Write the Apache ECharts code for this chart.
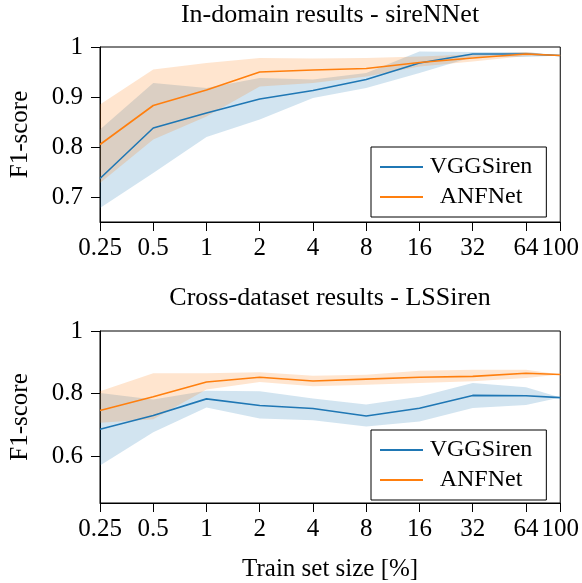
<!DOCTYPE html>
<html>
<head>
<meta charset="utf-8">
<script src="https://cdn.jsdelivr.net/npm/echarts@6/dist/echarts.min.js"></script>
<style>html,body{margin:0;padding:0;background:#fff;}#c{width:582px;height:583px;}</style>
</head>
<body>
<div id="c"></div>
<script>
const trainSizes = [0.25, 0.5, 1, 2, 4, 8, 16, 32, 64, 100];
const xTickValues = [0.25, 0.5, 1, 2, 4, 8, 16, 32, 64, 100];
const yTicksTop = [0.7, 0.8, 0.9, 1];
const yTicksBottom = [0.6, 0.8, 1];

// In-domain results - sireNNet
const vggInMean = [0.737, 0.838, 0.868, 0.896, 0.913, 0.935, 0.968, 0.986, 0.986, 0.983];
const vggInLow  = [0.678, 0.748, 0.820, 0.855, 0.898, 0.918, 0.948, 0.980, 0.980, 0.983];
const vggInHigh = [0.835, 0.928, 0.918, 0.938, 0.935, 0.948, 0.991, 0.990, 0.990, 0.983];
const anfInMean = [0.805, 0.883, 0.914, 0.950, 0.954, 0.957, 0.969, 0.978, 0.986, 0.983];
const anfInLow  = [0.728, 0.815, 0.861, 0.921, 0.928, 0.941, 0.961, 0.971, 0.982, 0.983];
const anfInHigh = [0.885, 0.955, 0.968, 0.978, 0.977, 0.978, 0.981, 0.985, 0.990, 0.983];

// Cross-dataset results - LSSiren
const vggCrossMean = [0.686, 0.730, 0.783, 0.762, 0.752, 0.728, 0.753, 0.794, 0.793, 0.787];
const vggCrossLow  = [0.570, 0.676, 0.755, 0.720, 0.715, 0.695, 0.711, 0.754, 0.763, 0.787];
const vggCrossHigh = [0.802, 0.781, 0.809, 0.807, 0.784, 0.765, 0.790, 0.834, 0.820, 0.787];
const anfCrossMean = [0.746, 0.790, 0.837, 0.852, 0.840, 0.846, 0.852, 0.855, 0.865, 0.861];
const anfCrossLow  = [0.707, 0.718, 0.813, 0.837, 0.823, 0.828, 0.834, 0.839, 0.850, 0.861];
const anfCrossHigh = [0.807, 0.865, 0.865, 0.868, 0.857, 0.860, 0.873, 0.876, 0.876, 0.861];

const titles = ['In-domain results - sireNNet', 'Cross-dataset results - LSSiren'];
const seriesNames = ['VGGSiren', 'ANFNet'];

const BLUE = '#1f77b4', ORANGE = '#ff7f0e';
const FONT = 'Liberation Serif';
const FS = 24;
const FS_TICK = 25;
const FS_TITLE = 26;

function pairs(vals) { return trainSizes.map((x, i) => [x, vals[i]]); }

function band(idx, low, high, color) {
  return {
    type: 'custom', xAxisIndex: idx, yAxisIndex: idx, silent: true, z: 1,
    data: trainSizes.map((x, i) => [x, low[i], high[i]]),
    encode: { x: 0, y: [1, 2] },
    renderItem: function (params, api) {
      if (params.dataIndexInside !== 0) return null;
      const upper = trainSizes.map((x, i) => api.coord([x, high[i]]));
      const lower = trainSizes.map((x, i) => api.coord([x, low[i]])).reverse();
      return {
        type: 'polygon',
        shape: { points: upper.concat(lower) },
        style: { fill: color, opacity: 0.2 }
      };
    }
  };
}
function line(idx, name, vals, color) {
  return { type: 'line', name: name, xAxisIndex: idx, yAxisIndex: idx, symbol: 'none',
    lineStyle: { color: color, width: 1.6 }, itemStyle: { color: color }, data: pairs(vals), z: 3 };
}

const grids = [
  { left: 99, right: 20, top: 47, height: 175 },
  { left: 99, right: 20, top: 331, height: 174 }
];

function xAxis(idx, withName) {
  const ax = {
    type: 'log', logBase: 2, gridIndex: idx, min: 0.25, max: 100,
    axisLine: { show: true, lineStyle: { color: '#000', width: 1 } },
    axisTick: { show: true, inside: false, length: 9, lineStyle: { color: '#000', width: 1 }, customValues: xTickValues },
    axisLabel: { show: true, margin: 14, color: '#000', fontFamily: FONT, fontSize: FS_TICK, customValues: xTickValues,
      formatter: v => String(v) },
    splitLine: { show: false }, minorTick: { show: false }
  };
  if (withName) {
    ax.name = 'Train set size [%]';
    ax.nameLocation = 'middle';
    ax.nameGap = 54;
    ax.nameTextStyle = { color: '#000', fontFamily: FONT, fontSize: FS_TICK };
  }
  return ax;
}
function yAxis(idx, min, ticks) {
  return {
    type: 'value', gridIndex: idx, min: min, max: 1,
    name: 'F1-score', nameLocation: 'middle', nameGap: 67,
    nameTextStyle: { color: '#000', fontFamily: FONT, fontSize: FS_TICK },
    axisLine: { show: true, lineStyle: { color: '#000', width: 1 } },
    axisTick: { show: true, inside: false, length: 9, lineStyle: { color: '#000', width: 1 }, customValues: ticks },
    axisLabel: { show: true, margin: 17, color: '#000', fontFamily: FONT, fontSize: FS_TICK, customValues: ticks,
      formatter: v => String(Math.round(v * 10) / 10) },
    splitLine: { show: false }
  };
}

function legend(top) {
  return {
    data: seriesNames, orient: 'vertical', left: 371, top: top,
    selectedMode: false,
    backgroundColor: '#fff', borderColor: '#000', borderWidth: 1, borderRadius: 0,
    padding: [8, 14, 8, 9], itemGap: 6, itemWidth: 43, itemHeight: 2, icon: 'rect',
    formatter: '{a|{name}}',
    textStyle: { color: '#000', fontFamily: FONT, fontSize: FS,
      rich: { a: { width: 106, align: 'center', fontFamily: FONT, fontSize: FS, color: '#000' } } }
  };
}

const option = {
  animation: false,
  backgroundColor: '#fff',
  grid: grids.map(g => Object.assign({ show: true, borderColor: '#000', borderWidth: 1, backgroundColor: 'transparent' }, g)),
  xAxis: [xAxis(0, false), xAxis(1, true)],
  yAxis: [yAxis(0, 0.65, yTicksTop), yAxis(1, 0.45, yTicksBottom)],
  legend: [legend(147), legend(430)],
  graphic: [
    { type: 'text', x: 330, y: 15, style: { text: titles[0], fill: '#000', font: FS_TITLE + 'px "' + FONT + '"', align: 'center', verticalAlign: 'middle' } },
    { type: 'text', x: 330, y: 298, style: { text: titles[1], fill: '#000', font: FS_TITLE + 'px "' + FONT + '"', align: 'center', verticalAlign: 'middle' } }
  ],
  series: [
    band(0, vggInLow, vggInHigh, BLUE),
    line(0, seriesNames[0], vggInMean, BLUE),
    band(0, anfInLow, anfInHigh, ORANGE),
    line(0, seriesNames[1], anfInMean, ORANGE),
    band(1, vggCrossLow, vggCrossHigh, BLUE),
    line(1, seriesNames[0], vggCrossMean, BLUE),
    band(1, anfCrossLow, anfCrossHigh, ORANGE),
    line(1, seriesNames[1], anfCrossMean, ORANGE)
  ]
};
const chart = echarts.init(document.getElementById('c'), null, { renderer: 'canvas' });
chart.setOption(option);
</script>
</body>
</html>
